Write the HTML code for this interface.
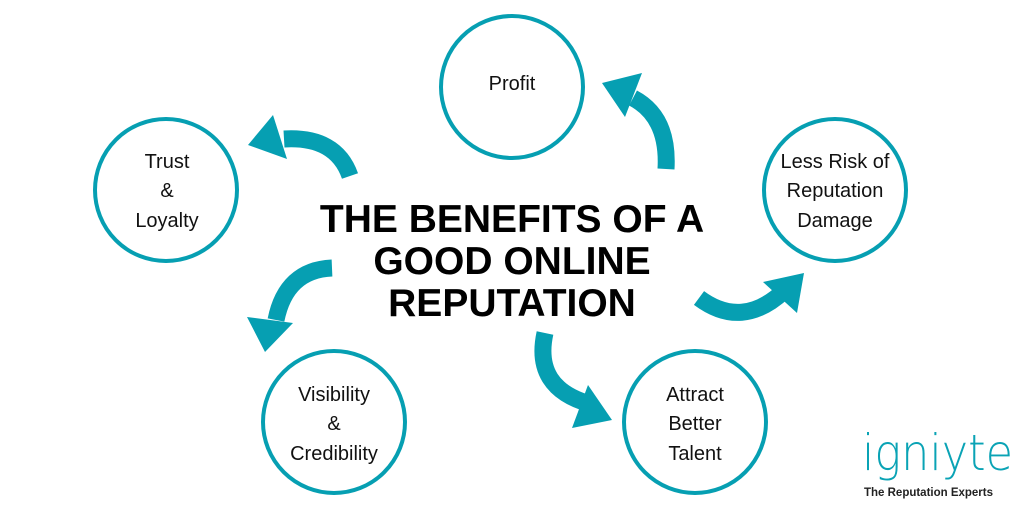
<!DOCTYPE html>
<html><head><style>
html,body{margin:0;padding:0;background:#fff;}
svg{display:block}
</style></head><body>
<svg width="1024" height="512" viewBox="0 0 1024 512" xmlns="http://www.w3.org/2000/svg">
<g fill="none" stroke="#069fb2" stroke-width="4">
<circle cx="512" cy="87" r="71"/>
<circle cx="166" cy="190" r="71"/>
<circle cx="835" cy="190" r="71"/>
<circle cx="334" cy="422" r="71"/>
<circle cx="695" cy="422" r="71"/>
</g>
<g fill="none" stroke="#069fb2" stroke-width="17">
<path d="M666,169 Q669,117 633,98"/>
<path d="M350,176 Q336,136 284,139"/>
<path d="M332,268 Q286,270 276,320"/>
<path d="M545,333 Q533,388 590,404"/>
<path d="M699,298 Q742,330 784,291"/>
</g>
<g fill="#069fb2">
<polygon points="602,83 642,73 625,117"/>
<polygon points="248,145 273,115 287,159"/>
<polygon points="265,352 247,317 293,323"/>
<polygon points="612,420 572,428 588,385"/>
<polygon points="804,273 763,282 797,313"/>
</g>
<g font-family="Liberation Sans, sans-serif" font-weight="bold" font-size="39" text-anchor="middle" fill="#000">
<text x="512" y="232">THE BENEFITS OF A</text>
<text x="512" y="274">GOOD ONLINE</text>
<text x="512" y="316">REPUTATION</text>
</g>
<g font-family="Liberation Sans, sans-serif" font-size="20" text-anchor="middle" fill="#111">
<text x="512" y="90">Profit</text>
<text x="167" y="168">Trust</text>
<text x="167" y="197">&amp;</text>
<text x="167" y="227">Loyalty</text>
<text x="835" y="168">Less Risk of</text>
<text x="835" y="197">Reputation</text>
<text x="835" y="227">Damage</text>
<text x="334" y="401">Visibility</text>
<text x="334" y="430">&amp;</text>
<text x="334" y="460">Credibility</text>
<text x="695" y="401">Attract</text>
<text x="695" y="430">Better</text>
<text x="695" y="460">Talent</text>
</g>
<text x="862" y="470" font-family="DejaVu Sans, sans-serif" font-weight="200" font-size="50" fill="#0aa3b5" textLength="151" lengthAdjust="spacingAndGlyphs">igniyte</text>
<text x="864" y="496" font-family="Liberation Sans, sans-serif" font-weight="bold" font-size="11.5" fill="#222" textLength="129" lengthAdjust="spacingAndGlyphs">The Reputation Experts</text>
</svg>
</body></html>
